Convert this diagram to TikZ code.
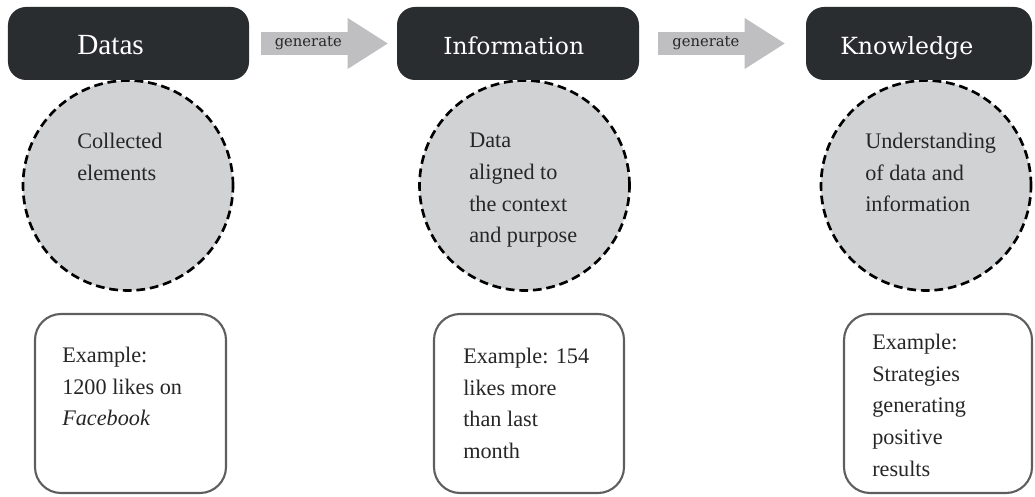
\documentclass[tikz,border=0pt]{standalone}
\usepackage{fontspec}
\setmainfont{Liberation Serif}
\newfontfamily\slabfont{DejaVu Serif}
\usepackage{tikz}
\usetikzlibrary{arrows.meta, positioning}

\definecolor{headfill}{HTML}{2A2D30}
\definecolor{circfill}{HTML}{D1D2D4}
\definecolor{arrowfill}{HTML}{BFBFC1}
\definecolor{boxline}{HTML}{5E5E5E}
\definecolor{textcol}{HTML}{262626}

\begin{document}
\begin{tikzpicture}[
		headbox/.style={fill=headfill, rounded corners=0.45cm, minimum height=1.825cm, inner sep=0},
		headtext/.style={anchor=base west, text=white, inner sep=0},
		idea/.style={circle, fill=circfill, draw=black, line width=1.9pt, dash pattern=on 0.22cm off 0.12cm, minimum size=5.25cm, inner sep=0},
		bodytext/.style={anchor=north west, align=left, inner sep=0, text=textcol, font=\fontsize{15.8pt}{22.5pt}\selectfont},
		examplebox/.style={draw=boxline, line width=1.5pt, rounded corners=0.65cm, minimum height=4.475cm, inner sep=0},
		genarrow/.style={draw=arrowfill, line width=0.575cm, -{Triangle[length=1cm, width=1.275cm, line width=0pt]}},
		genlabel/.style={pos=0.4, font=\slabfont\fontsize{10.5pt}{12pt}\selectfont, text=textcol, inner sep=0}
	]
	\useasboundingbox (0,0) rectangle (25.875,-12.425);

	% Kreise
	\node[idea] (c1) at (3.2,-4.6375) {};
	\node[idea] (c2) at (13.1125,-4.6375) {};
	\node[idea] (c3) at (23.15,-4.6375) {};
	\node[bodytext] (c1t) at (1.925,-3.325) {Collected\\elements};
	\node[bodytext] (c2t) at (11.725,-3.325) {Data\\aligned to\\the context\\and purpose};
	\node[bodytext] (c3t) at (21.625,-3.325) {Understanding\\of data and\\information};

	% Kopfzeile
	\node[headbox, minimum width=6.025cm] (datas) at (3.2125,-1.0875) {};
	\node[headbox, minimum width=6.05cm] (info) at (12.95,-1.0875) {};
	\node[headbox, minimum width=5.65cm] (know) at (22.975,-1.0875) {};
	\node[headtext, font=\fontsize{20.8pt}{24pt}\selectfont] (datast) at (1.925,-1.375) {Datas};
	\node[headtext, font=\slabfont\fontsize{16.7pt}{20pt}\selectfont] (infot) at (11.075,-1.375) {Information};
	\node[headtext, font=\slabfont\fontsize{16.8pt}{20pt}\selectfont] (knowt) at (21.0,-1.375) {Knowledge};

	% Pfeile
	\draw[genarrow, shorten <=0.3cm, shorten >=0.225cm] (datas) -- (info) node[genlabel] (g1) {generate};
	\draw[genarrow, shorten <=0.475cm, shorten >=0.525cm] (info) -- (know) node[genlabel] (g2) {generate};

	% Beispiele
	\node[examplebox, minimum width=4.775cm] (ex1) at (3.2625,-10.0875) {};
	\node[examplebox, minimum width=4.75cm] (ex2) at (13.225,-10.0875) {};
	\node[examplebox, minimum width=4.7cm] (ex3) at (23.45,-10.0875) {};
	\node[bodytext] (ex1t) at (1.55,-8.675) {Example:\\1200 likes on\\\textit{Facebook}};
	\node[bodytext] (ex2t) at (11.575,-8.7) {Example: 154\\likes more\\than last\\month};
	\node[bodytext] (ex3t) at (21.8,-8.35) {Example:\\Strategies\\generating\\positive\\results};
\end{tikzpicture}
\end{document}
